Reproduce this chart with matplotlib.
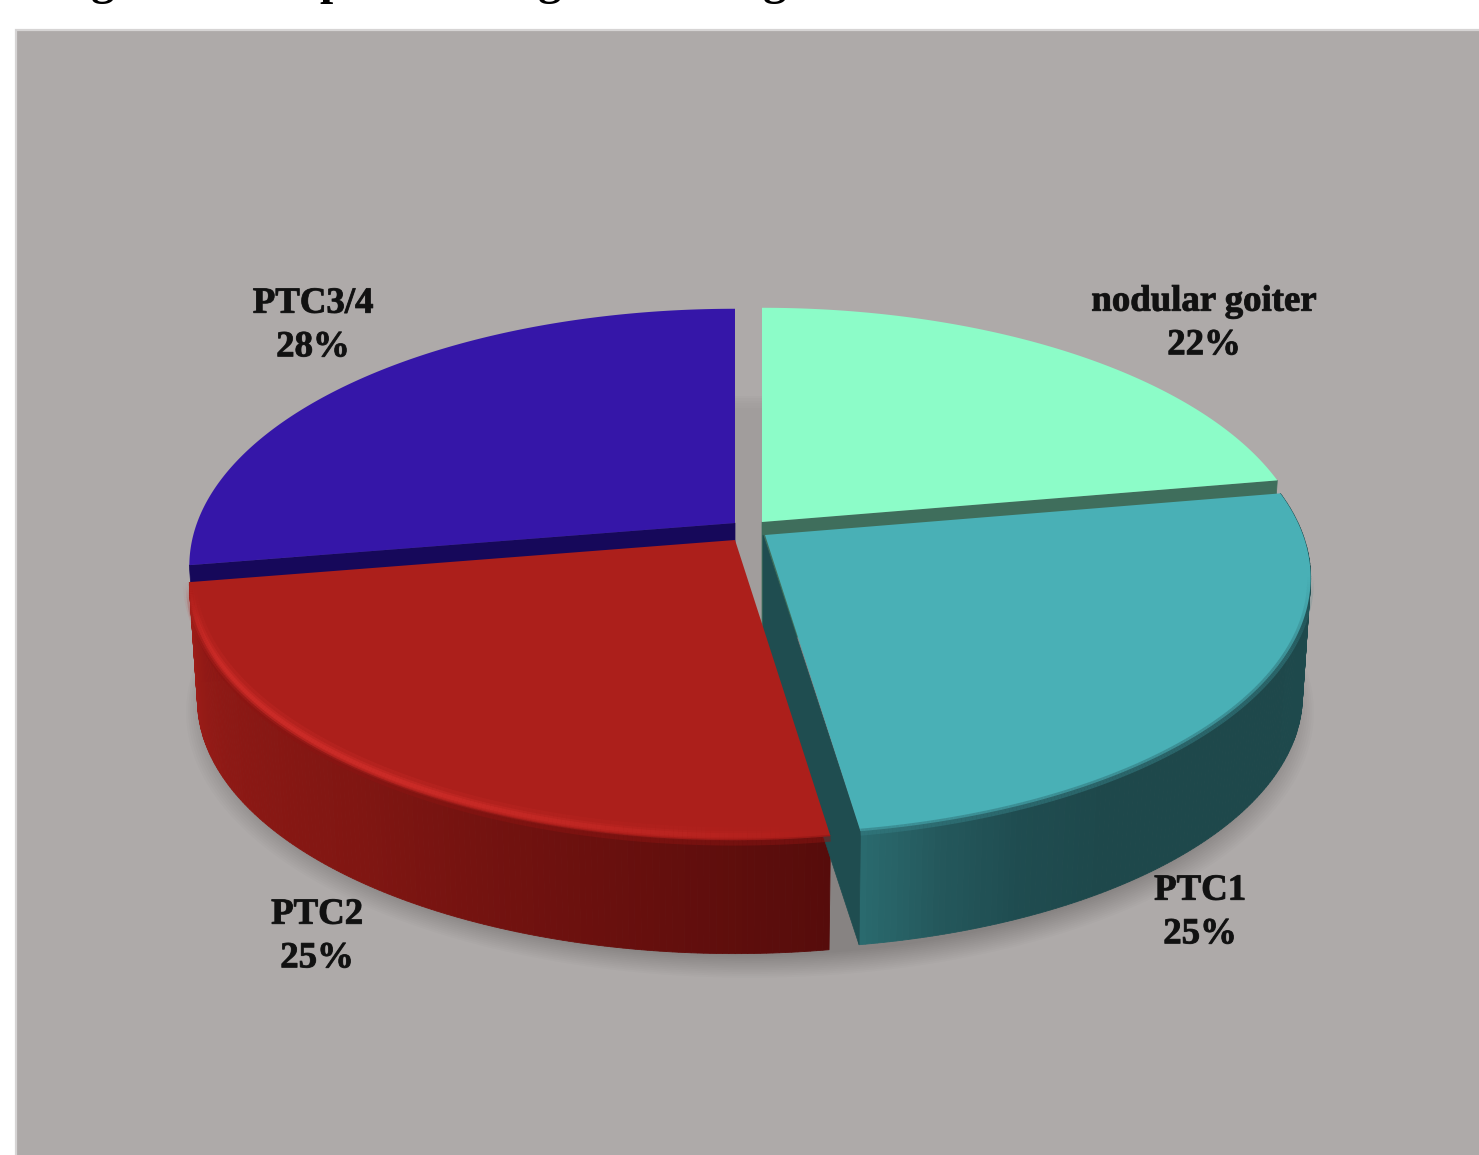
import numpy as np
import matplotlib
matplotlib.use("Agg")
import matplotlib.pyplot as plt
from matplotlib.patches import Polygon, Rectangle
from matplotlib.collections import LineCollection
from matplotlib.colors import to_rgb
import matplotlib.patheffects as pe

# ---- data (clockwise from 12 o'clock)
categories = ["nodular goiter", "PTC1", "PTC2", "PTC3/4"]
percentages = [22, 25, 25, 28]
title_fragments = ["g", "p", "g", "g"]

# ---- styles
top_colors = ["#8CFCC8", "#49B0B6", "#AC1F1B", "#3516A8"]
cut_colors = ["#3F6E5C", "#1F4D50", "#5A0C0B", "#16085A"]
apex_x = [762, 765, 735, 735]
apex_y = [522, 535, 540, 523]
label_xy = [(1204, 323), (1200, 912), (317, 936), (313, 325)]
title_x = [103, 333, 550, 775]
RX, RY, K, TWIST = 538.0, 250.0, 0.167, 1.15
WALL_H, WALL_S = 118.0, 0.985
BG = "#AEAAA9"

fig = plt.figure(figsize=(14.79, 11.55), dpi=100, facecolor="white")
ax = fig.add_axes([0, 0, 1, 1])
ax.set_xlim(0, 1479)
ax.set_ylim(1155, 0)
ax.axis("off")


def rim(theta_deg):
    """Perspective projection of a circle angle, relative to the slice apex."""
    t = np.radians(theta_deg)
    t = t - np.radians(TWIST) * (1 - np.sin(t))
    u, v = np.cos(t), -np.sin(t)
    d = 1 - K * v
    return RX * u / d, RY * v / d


def top_pts(i, th):
    x, y = rim(th)
    return apex_x[i] + x, apex_y[i] + y


def bot_pts(i, th):
    x, y = rim(th)
    return apex_x[i] + WALL_S * x, apex_y[i] + WALL_S * y + WALL_H


def blend(c, stops_t, stops_c):
    arr = np.array([to_rgb(s) for s in stops_c])
    return [np.interp(c, stops_t, arr[:, k]) for k in range(3)]


# slice angle ranges from the values
edges = 90 - 3.6 * np.concatenate([[0], np.cumsum(percentages)])
starts, ends = edges[:-1], edges[1:]

# background panel
ax.add_patch(Rectangle((16, 30), 1479, 1155, fc=BG, ec="#D6D4D4", lw=1.6, zorder=0))

# soft shadow under the pie
th_all = np.linspace(0, 360, 361)
sx, sy = rim(th_all)
cx, cy = 750.0, 536.0
for grow in np.linspace(26, 0, 13):
    px = cx + (RX * WALL_S + grow) * sx / RX
    py = cy + 6 + WALL_S * sy * (1 + grow / RX) + WALL_H + grow * 0.3
    ax.add_patch(Polygon(np.c_[px, py], fc="black", ec="none", alpha=0.016, zorder=1))

# the gap seen between the back slices
gap_l, gap_r = apex_x[2], apex_x[0]
ax.add_patch(Rectangle((gap_l, 408), gap_r - gap_l, 220, fc="#A19D9C", ec="none", zorder=1.5))
for k, y0 in enumerate(np.linspace(396, 408, 6)):
    ax.add_patch(Rectangle((gap_l, y0), gap_r - gap_l, 14 - 2 * k, fc="#A19D9C", ec="none",
                           alpha=0.22, zorder=1.5))

# curved outer walls of the two front slices
wall_stops = {
    1: ([11, -10, -30, -55, -64, -72, -79], ["#1E4A4D", "#1E4A4D", "#1E484B", "#1E484B", "#1F4C50", "#24585C", "#2A6A6E"]),
    2: ([-79, -100, -125, -150, -170], ["#560C0B", "#6A100E", "#801612", "#8E1915", "#9E1D18"]),
}
for i in (1, 2):
    ts = np.linspace(starts[i], ends[i], 160)
    stops_t, stops_c = wall_stops[i]
    order = np.argsort(stops_t)
    for t0, t1 in zip(ts[:-1], ts[1:]):
        x0, y0 = top_pts(i, t0)
        x1, y1 = top_pts(i, t1)
        x2, y2 = bot_pts(i, t1)
        x3, y3 = bot_pts(i, t0)
        col = blend((t0 + t1) / 2, np.array(stops_t)[order], [stops_c[j] for j in order])
        ax.add_patch(Polygon([(x0, y0), (x1, y1), (x2, y2), (x3, y3)], fc=col, ec=col, lw=0.6,
                             zorder=2 + i * 0.1))

# flat cut faces: goiter end radius and PTC3/4 start radius, covered by the next slice
for i, th, z in ((0, ends[0], 3), (3, starts[3], 2.0)):
    x, y = top_pts(i, th)
    xb, yb = bot_pts(i, th)
    ax.add_patch(Polygon([(apex_x[i], apex_y[i]), (x, y), (xb, yb),
                          (apex_x[i], apex_y[i] + WALL_H)],
                         fc=cut_colors[i], ec=cut_colors[i], lw=0.5, zorder=z))
# PTC1: along its end radius, visible through the gap
x, y = top_pts(1, ends[1])
xb, yb = bot_pts(1, ends[1])
ax.add_patch(Polygon([(apex_x[1] - 2, apex_y[1]), (x, y), (xb, yb), (apex_x[1] - 2, apex_y[1] + WALL_H)],
                     fc=cut_colors[1], ec=cut_colors[1], lw=0.5, zorder=3.3))

# top faces
z_top = [3.1, 4.0, 5.0, 3.2]
for i in range(4):
    ts = np.linspace(starts[i], ends[i], 200)
    x, y = top_pts(i, ts)
    ax.add_patch(Polygon(np.r_[[[apex_x[i], apex_y[i]]], np.c_[x, y]], fc=top_colors[i], ec="none",
                         zorder=z_top[i]))

# bevels along the front rims
ts = np.linspace(starts[2], ends[2], 220)
x, y = top_pts(2, ts)
pts = np.c_[x, y]
segs = np.stack([pts[:-1], pts[1:]], axis=1)
mid = (ts[:-1] + ts[1:]) / 2
strength = np.interp(-mid, [79, 92, 120, 150, 160, 168], [0.0, 0.35, 1.0, 1.0, 0.6, 0.0])
for lw, al, off in ((10, 0.2, 6), (6, 0.35, 5), (3, 0.5, 5)):
    rgba = np.zeros((len(segs), 4))
    rgba[:, :3] = to_rgb("#D6302C")
    rgba[:, 3] = strength * al
    ax.add_collection(LineCollection(segs + np.array([0, -off]), colors=rgba, linewidths=lw, zorder=5.1,
                                     capstyle="butt"))
dark = np.zeros((len(segs), 4))
dark[:, :3] = (0.55, 0.08, 0.07)
dark[:, 3] = 0.5 * np.interp(-mid, [79, 82, 155, 168], [1, 1, 1, 0])
ax.add_collection(LineCollection(segs + np.array([0, 2]), colors=dark, linewidths=5,
                                 zorder=5.05, capstyle="butt"))

ts = np.linspace(-8, ends[1], 200)
x, y = top_pts(1, ts)
pts = np.c_[x, y]
segs = np.stack([pts[:-1], pts[1:]], axis=1)
rgba = np.zeros((len(segs), 4))
rgba[:, :3] = (0.2, 0.48, 0.5)
rgba[:, 3] = 0.6 * np.interp(-(ts[:-1] + ts[1:]) / 2, [8, 25, 90], [0, 1, 1])
ax.add_collection(LineCollection(segs + np.array([0, 1]), colors=rgba, linewidths=5,
                                 zorder=4.1, capstyle="butt"))

# labels
for name, pct, (lx, ly) in zip(categories, percentages, label_xy):
    ax.text(lx, ly, f"{name}\n{pct}%", ha="center", va="center", family="Liberation Serif",
            weight="bold", fontsize=26.5, color="#111111", linespacing=1.32, zorder=8,
            path_effects=[pe.withStroke(linewidth=0.7, foreground="#222222")])

# clipped caption above the panel: only the descenders remain in the picture
for ch, tx in zip(title_fragments, title_x):
    ax.text(tx, -6, ch, ha="center", va="baseline", family="Liberation Serif", weight="bold",
            fontsize=34, color="black", clip_on=True, zorder=8)

fig.savefig("out.png", dpi=100, facecolor="white")
